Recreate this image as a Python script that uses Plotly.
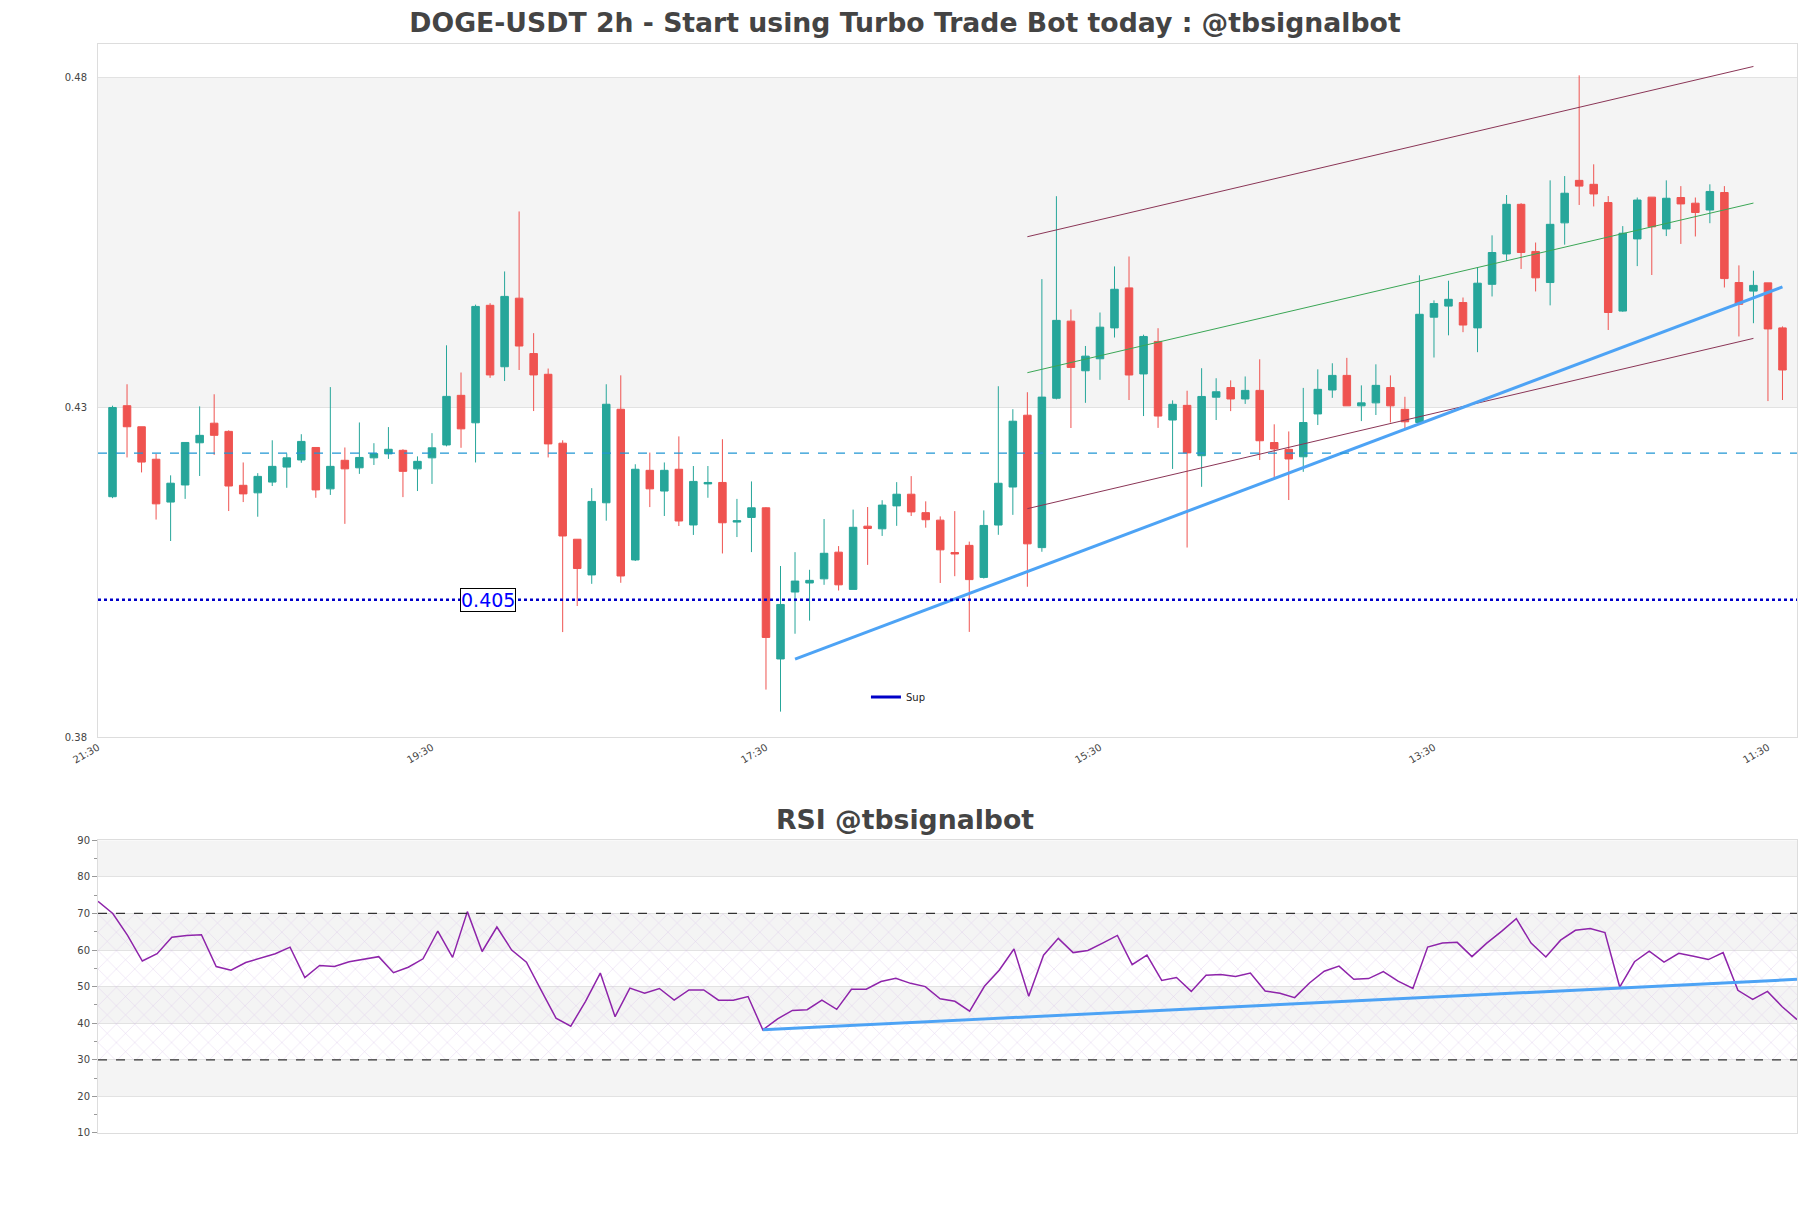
import pandas as pd
import plotly.graph_objects as go

# ================= DATA =================
START = "2025-01-10 23:30"          # first candle (2h bars)
N_BARS = 116

OPEN = [0.41641, 0.43020, 0.42701, 0.42209, 0.41560, 0.41819, 0.42458, 0.42755, 0.42631, 0.41814,
        0.41700, 0.41863, 0.42090, 0.42198, 0.42387, 0.41760, 0.42193, 0.42079, 0.42230, 0.42290,
        0.42344, 0.42063, 0.42230, 0.42425, 0.43177, 0.42761, 0.44541, 0.43610, 0.44649, 0.43810,
        0.43496, 0.42452, 0.40997, 0.40456, 0.41549, 0.42966, 0.40683, 0.42041, 0.41727, 0.42057,
        0.41213, 0.41835, 0.41857, 0.41257, 0.41327, 0.41473, 0.39183, 0.40197, 0.40334, 0.40397,
        0.40801, 0.40237, 0.41195, 0.41155, 0.41502, 0.41679, 0.41400, 0.41286, 0.40796, 0.40904,
        0.40419, 0.41212, 0.41788, 0.42876, 0.40870, 0.43133, 0.44301, 0.43549, 0.43731, 0.44199,
        0.44805, 0.43501, 0.43994, 0.42803, 0.43025, 0.42262, 0.43149, 0.43295, 0.43122, 0.43252,
        0.42462, 0.42359, 0.42246, 0.42895, 0.43258, 0.43479, 0.43018, 0.43063, 0.43295, 0.42965,
        0.42765, 0.44361, 0.44529, 0.44583, 0.44199, 0.44859, 0.45319, 0.46071, 0.45357, 0.44886,
        0.45790, 0.46434, 0.46374, 0.46098, 0.44454, 0.45547, 0.46180, 0.45698, 0.46174, 0.46088,
        0.45985, 0.46250, 0.44886, 0.44756, 0.44881, 0.44199]
HIGH = [0.43020, 0.43345, 0.42701, 0.42290, 0.41965, 0.42463, 0.43010, 0.43193, 0.42647, 0.42160,
        0.41998, 0.42496, 0.42295, 0.42588, 0.42387, 0.43302, 0.42387, 0.42766, 0.42452, 0.42696,
        0.42360, 0.42252, 0.42604, 0.43935, 0.43523, 0.44551, 0.44573, 0.45054, 0.45963, 0.44119,
        0.43583, 0.42496, 0.40997, 0.41771, 0.43345, 0.43480, 0.42133, 0.42310, 0.42160, 0.42555,
        0.42106, 0.42106, 0.42512, 0.41608, 0.41873, 0.41484, 0.40591, 0.40801, 0.40534, 0.41303,
        0.40893, 0.41446, 0.41485, 0.41588, 0.41862, 0.41953, 0.41571, 0.41343, 0.41423, 0.40961,
        0.41434, 0.43315, 0.42967, 0.43224, 0.44938, 0.46194, 0.44478, 0.43925, 0.44432, 0.45130,
        0.45281, 0.44096, 0.44194, 0.43101, 0.43247, 0.43588, 0.43436, 0.43404, 0.43463, 0.43723,
        0.42738, 0.42630, 0.43290, 0.43571, 0.43663, 0.43745, 0.43328, 0.43647, 0.43479, 0.43155,
        0.44995, 0.44616, 0.44913, 0.44659, 0.45119, 0.45601, 0.46212, 0.46088, 0.45492, 0.46434,
        0.46499, 0.48025, 0.46677, 0.46196, 0.45741, 0.46174, 0.46180, 0.46434, 0.46347, 0.46174,
        0.46374, 0.46347, 0.45146, 0.45065, 0.44881, 0.44221]
LOW = [0.41619, 0.42236, 0.42009, 0.41295, 0.40970, 0.41608, 0.41955, 0.42274, 0.41424, 0.41560,
       0.41338, 0.41803, 0.41776, 0.42155, 0.41625, 0.41668, 0.41230, 0.41987, 0.42122, 0.42214,
       0.41635, 0.41727, 0.41835, 0.42404, 0.42382, 0.42160, 0.43442, 0.43394, 0.43561, 0.42939,
       0.42236, 0.39590, 0.39985, 0.40321, 0.41278, 0.40337, 0.40667, 0.41484, 0.41349, 0.41197,
       0.41062, 0.41625, 0.40781, 0.41030, 0.40802, 0.38719, 0.38385, 0.39565, 0.39764, 0.40306,
       0.40220, 0.40237, 0.40608, 0.41047, 0.41200, 0.41349, 0.41172, 0.40334, 0.40437, 0.39593,
       0.40402, 0.41064, 0.41366, 0.40277, 0.40807, 0.43116, 0.42682, 0.43064, 0.43412, 0.44053,
       0.43106, 0.42863, 0.42684, 0.42062, 0.40871, 0.41791, 0.42803, 0.42938, 0.43047, 0.42197,
       0.41899, 0.41591, 0.42018, 0.42727, 0.43139, 0.43018, 0.42787, 0.42879, 0.42765, 0.42657,
       0.42738, 0.43750, 0.44086, 0.44134, 0.43831, 0.44675, 0.45216, 0.45092, 0.44751, 0.44540,
       0.45460, 0.46061, 0.46039, 0.44167, 0.44443, 0.45135, 0.45000, 0.45590, 0.45471, 0.45584,
       0.45785, 0.44811, 0.44069, 0.44270, 0.43090, 0.43106]
CLOSE = [0.42993, 0.42701, 0.42166, 0.41533, 0.41846, 0.42463, 0.42571, 0.42571, 0.41803, 0.41684,
         0.41949, 0.42101, 0.42230, 0.42479, 0.41744, 0.42101, 0.42063, 0.42236, 0.42295, 0.42360,
         0.42025, 0.42177, 0.42382, 0.43161, 0.42669, 0.44524, 0.43486, 0.44676, 0.43924, 0.43486,
         0.42441, 0.41046, 0.40553, 0.41570, 0.43042, 0.40440, 0.42057, 0.41760, 0.42041, 0.41273,
         0.41873, 0.41857, 0.41246, 0.41278, 0.41473, 0.39509, 0.40009, 0.40363, 0.40374, 0.40784,
         0.40306, 0.41178, 0.41160, 0.41514, 0.41679, 0.41411, 0.41292, 0.40836, 0.40773, 0.40385,
         0.41206, 0.41845, 0.42785, 0.40927, 0.43150, 0.44313, 0.43600, 0.43771, 0.44210, 0.44784,
         0.43485, 0.44069, 0.42863, 0.43041, 0.42305, 0.43160, 0.43231, 0.43122, 0.43252, 0.42489,
         0.42365, 0.42213, 0.42765, 0.43268, 0.43479, 0.43018, 0.43063, 0.43328, 0.43018, 0.42776,
         0.44405, 0.44567, 0.44632, 0.44242, 0.44876, 0.45341, 0.46071, 0.45341, 0.44957, 0.45768,
         0.46239, 0.46347, 0.46228, 0.44432, 0.45633, 0.46136, 0.45730, 0.46163, 0.46077, 0.45947,
         0.46266, 0.44946, 0.44556, 0.44843, 0.44183, 0.43561]

RSI = [73.3, 70.0, 64.0, 57.0, 59.0, 63.5, 64.0, 64.2, 55.5, 54.5,
       56.6, 57.8, 59.0, 60.8, 52.5, 55.8, 55.5, 56.8, 57.6, 58.2,
       53.8, 55.3, 57.6, 65.2, 58.0, 70.5, 59.6, 66.3, 60.0, 56.7,
       49.0, 41.4, 39.2, 46.0, 53.7, 41.8, 49.6, 48.2, 49.5, 46.3,
       49.1, 49.1, 46.3, 46.3, 47.3, 38.2, 41.2, 43.5, 43.7, 46.3,
       43.8, 49.3, 49.3, 51.4, 52.3, 50.9, 50.0, 46.7, 46.0, 43.3,
       50.1, 54.5, 60.3, 47.4, 58.6, 63.2, 59.3, 59.9, 61.9, 64.0,
       56.0, 58.6, 51.7, 52.5, 48.7, 53.1, 53.3, 52.8, 53.7, 48.8,
       48.2, 47.0, 51.0, 54.2, 55.6, 52.0, 52.2, 54.1, 51.5, 49.5,
       60.8, 61.9, 62.1, 58.2, 61.9, 65.1, 68.6, 61.9, 58.1, 62.7,
       65.4, 65.9, 64.8, 49.9, 56.8, 59.7, 56.7, 59.1, 58.3, 57.4,
       59.3, 49.0, 46.5, 48.7, 44.5, 41.0]

SUP_LEVEL = 0.4008
SUP_LABEL = "0.405"
MID_LEVEL = 0.4230

# trend lines: (bar index start, bar index end, value start, value end)
SUP_TREND = (47, 115, 0.3918, 0.4482)
CH_UPPER = (63, 113, 0.4558, 0.4816)
CH_MID = (63, 113, 0.4352, 0.4609)
CH_LOWER = (63, 113, 0.4146, 0.4404)
RSI_TREND = (45, 115, 38.2, 52.0)
RSI_LEVELS = [30, 70]

TITLE = "DOGE-USDT 2h - Start using Turbo Trade Bot today : @tbsignalbot"
RSI_TITLE = "RSI @tbsignalbot"

# ================= STYLE =================
UP = "#26a69a"
DOWN = "#ef5350"
BAND = "#f4f4f4"
GRID = "#e2e2e2"
FRAME = "#dddddd"
TXT = "#444444"
TREND = "#4da3f5"
CHAN = "#8a3556"
CHAN_MID = "#3aa655"
TITLE_FONT = dict(family="DejaVu Sans", size=26.7, color=TXT, weight="bold")

times = pd.date_range(START, periods=N_BARS, freq="2h")
bar = pd.Timedelta(hours=2)

fig = go.Figure()

# ===== MAIN CANDLES =====
fig.add_trace(go.Candlestick(
    x=times, open=OPEN, high=HIGH, low=LOW, close=CLOSE,
    increasing=dict(line=dict(color=UP, width=1), fillcolor=UP),
    decreasing=dict(line=dict(color=DOWN, width=1), fillcolor=DOWN),
    showlegend=False, xaxis="x", yaxis="y"))


def seg(spec, color, width, yaxis="y", xaxis="x"):
    i0, i1, v0, v1 = spec
    return go.Scatter(x=[times[i0], times[i1]], y=[v0, v1], mode="lines",
                      line=dict(color=color, width=width), showlegend=False,
                      hoverinfo="skip", xaxis=xaxis, yaxis=yaxis)


fig.add_trace(seg(CH_UPPER, CHAN, 1))
fig.add_trace(seg(CH_MID, CHAN_MID, 1))
fig.add_trace(seg(CH_LOWER, CHAN, 1))
fig.add_trace(seg(SUP_TREND, TREND, 3))

# support line
fig.add_trace(go.Scatter(
    x=[times[0] - bar, times[-1] + bar], y=[SUP_LEVEL, SUP_LEVEL],
    mode="lines", name="Sup", line=dict(color="#0000c8", width=2.5, dash="dot"),
    showlegend=False, xaxis="x", yaxis="y"))
# legend entry for it
fig.add_trace(go.Scatter(
    x=[None], y=[None], mode="lines", name="Sup",
    line=dict(color="#0000c8", width=3), xaxis="x", yaxis="y"))

# ===== RSI =====
fig.add_trace(go.Scatter(x=[times[0], times[-1]], y=[RSI_LEVELS[0]] * 2, mode="lines",
                         line=dict(width=0), showlegend=False, hoverinfo="skip",
                         xaxis="x2", yaxis="y2"))
fig.add_trace(go.Scatter(x=[times[0], times[-1]], y=[RSI_LEVELS[1]] * 2, mode="lines",
                         line=dict(width=0), fill="tonexty", fillcolor="rgba(0,0,0,0)",
                         fillpattern=dict(shape="x", fgcolor="#d6bde8", bgcolor="rgba(0,0,0,0)",
                                          size=13, solidity=0.06, fgopacity=0.8),
                         showlegend=False, hoverinfo="skip", xaxis="x2", yaxis="y2"))
fig.add_trace(go.Scatter(x=times, y=RSI, mode="lines", line=dict(color="#8e24aa", width=1.5),
                         showlegend=False, xaxis="x2", yaxis="y2"))
fig.add_trace(seg(RSI_TREND, TREND, 3, yaxis="y2", xaxis="x2"))

# ===== SHAPES =====
shapes = [dict(type="rect", xref="x domain", yref="y", x0=0, x1=1, y0=0.43, y1=0.48,
               fillcolor=BAND, line=dict(width=0), layer="below")]
for lo, hi in [(80, 90), (60, 70), (40, 50), (20, 30)]:
    shapes.append(dict(type="rect", xref="x2 domain", yref="y2", x0=0, x1=1, y0=lo, y1=hi,
                       fillcolor=BAND, line=dict(width=0), layer="below"))
shapes.append(dict(type="line", xref="x domain", yref="y", x0=0, x1=1, y0=MID_LEVEL, y1=MID_LEVEL,
                   line=dict(color="#2196d3", width=1.2, dash="dash")))
for lvl in RSI_LEVELS:
    shapes.append(dict(type="line", xref="x2 domain", yref="y2", x0=0, x1=1, y0=lvl, y1=lvl,
                       line=dict(color="#333333", width=1.2, dash="dash")))

tickfont = dict(family="DejaVu Sans", size=10, color=TXT)

# page body has an 8px margin, so the figure is sized/offset to compensate
fig.update_layout(
    width=1803, height=1200,
    margin=dict(l=90, r=14, t=36, b=75),
    paper_bgcolor="white", plot_bgcolor="white",
    boxgap=0.26,
    title=dict(text=TITLE, x=0.4975, xref="container", xanchor="center",
               y=1 - 15 / 1200, yanchor="middle", font=TITLE_FONT),
    shapes=shapes,
    annotations=[
        dict(text=SUP_LABEL, xref="x domain", yref="y", x=0.2294, y=SUP_LEVEL,
             xanchor="center", yanchor="middle", showarrow=False,
             font=dict(family="DejaVu Sans", size=19, color="#0000ff"),
             bgcolor="white", bordercolor="black", borderwidth=1, borderpad=0),
        dict(text=RSI_TITLE, xref="paper", yref="paper", x=0.475, y=0.2883,
             xanchor="center", yanchor="middle", showarrow=False, font=TITLE_FONT),
    ],
    showlegend=True,
    legend=dict(x=0.452, y=0.4004, xanchor="left", yanchor="middle", itemwidth=30,
                bgcolor="rgba(0,0,0,0)", font=dict(family="DejaVu Sans", size=10, color="#222")),
    xaxis=dict(domain=[0, 1], anchor="y", type="date",
               range=[times[0] - bar, times[-1] + bar],
               tick0=times[0] - bar, dtick=46 * 3600 * 1000, tickformat="%H:%M",
               tickangle=-30, tickfont=tickfont, showgrid=False,
               showline=True, mirror=True, linecolor=FRAME, rangeslider=dict(visible=False)),
    yaxis=dict(domain=[0.3636, 1], anchor="x", range=[0.38, 0.485], tick0=0.38, dtick=0.05,
               tickformat=".2f", tickfont=tickfont, gridcolor=GRID, zeroline=False,
               showline=True, mirror=True, linecolor=FRAME, ticklabelstandoff=8),
    xaxis2=dict(domain=[0, 1], anchor="y2", type="date", range=[times[0], times[-1]],
                showticklabels=False, showgrid=False, showline=True, mirror=True, linecolor=FRAME),
    yaxis2=dict(domain=[0, 0.2688], anchor="x2", range=[10, 90], tick0=10, dtick=10,
                tickfont=tickfont, gridcolor=GRID, zeroline=False, ticks="outside",
                ticklen=5, tickcolor="#999", showline=True, mirror=True, linecolor=FRAME,
                minor=dict(dtick=5, ticks="outside", ticklen=3, tickcolor="#999", showgrid=False)),
)

fig.write_html("out.html")
